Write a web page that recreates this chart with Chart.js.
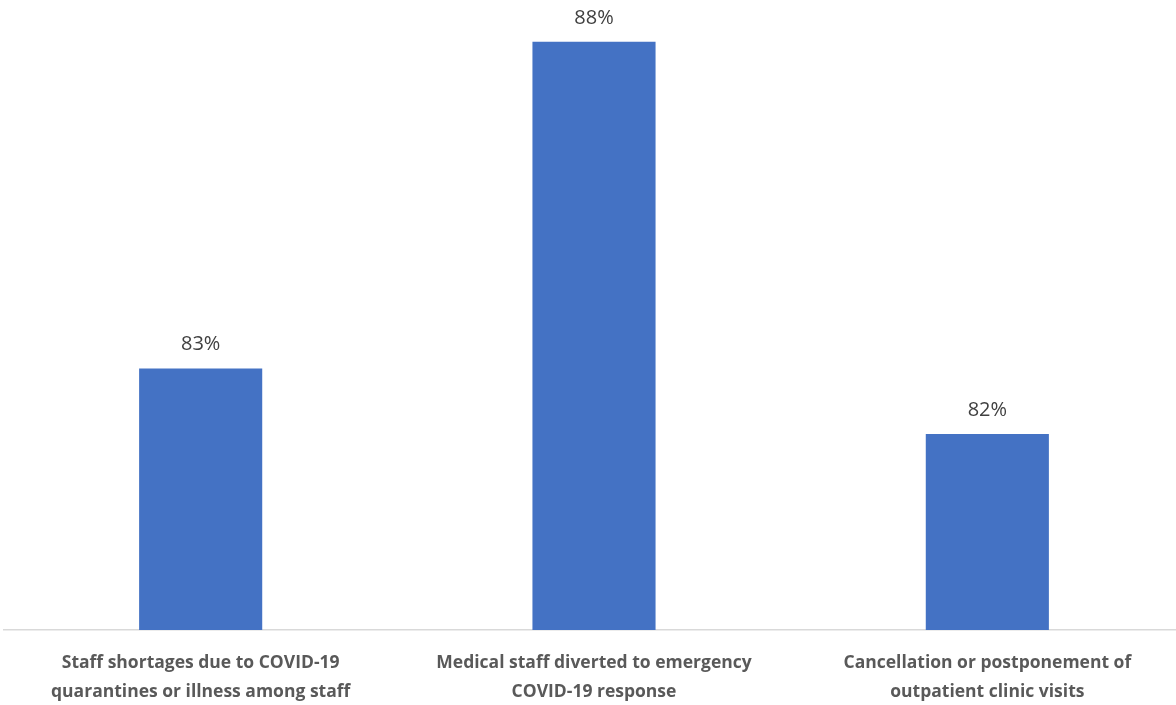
<!DOCTYPE html>
<html>
<head>
<meta charset="utf-8">
<script src="https://cdn.jsdelivr.net/npm/chart.js@4.4.1/dist/chart.umd.min.js"></script>
<style>
  html, body { margin: 0; padding: 0; background: #ffffff; overflow: hidden; }
  #wrap { position: relative; width: 1184px; height: 705px; }
</style>
</head>
<body>
<div id="wrap"><canvas id="chart"></canvas></div>
<script>
const categories = [
  ["Staff shortages due to COVID-19", "quarantines or illness among staff"],
  ["Medical staff diverted to emergency", "COVID-19 response"],
  ["Cancellation or postponement of", "outpatient clinic visits"]
];
const shares = [83, 88, 82];
const valueLabels = ["83%", "88%", "82%"];

// Writes each bar's percentage just above its top
const barValueLabels = {
  id: 'barValueLabels',
  afterDatasetsDraw(chart) {
    const ctx = chart.ctx;
    const meta = chart.getDatasetMeta(0);
    ctx.save();
    ctx.font = '20px "Open Sans", sans-serif';
    ctx.fillStyle = '#404040';
    ctx.textAlign = 'center';
    ctx.textBaseline = 'middle';
    meta.data.forEach((bar, i) => {
      ctx.fillText(valueLabels[i], bar.x, bar.y - 24);
    });
    ctx.restore();
  }
};

new Chart(document.getElementById('chart'), {
  type: 'bar',
  data: {
    labels: categories,
    datasets: [{
      data: shares,
      backgroundColor: '#4472c4',
      borderWidth: 0,
      barPercentage: 0.313,
      categoryPercentage: 1.0
    }]
  },
  options: {
    responsive: true,
    maintainAspectRatio: false,
    animation: false,
    layout: { padding: { left: 4, right: 0, top: 0, bottom: 0 } },
    plugins: {
      legend: { display: false },
      tooltip: { enabled: false }
    },
    scales: {
      x: {
        grid: { display: false, drawTicks: false },
        border: { display: true, color: '#d9d9d9', width: 1.5 },
        ticks: {
          color: '#595959',
          font: { family: '"Open Sans", sans-serif', size: 17.5, weight: 'bold', lineHeight: 1.65 },
          padding: 19,
          maxRotation: 0,
          autoSkip: false
        },
        afterFit(scale) { scale.height = 75; }
      },
      y: {
        display: false,
        min: 79,
        max: 88.64
      }
    }
  },
  plugins: [barValueLabels]
});
</script>
</body>
</html>
